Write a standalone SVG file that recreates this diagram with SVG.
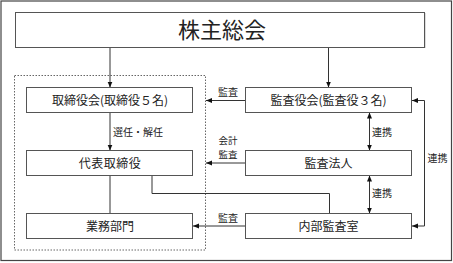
<svg xmlns="http://www.w3.org/2000/svg" width="453" height="263" viewBox="0 0 453 263">
<style>
.box{fill:#fff;stroke:#555;stroke-width:1}
.ln{fill:none;stroke:#333;stroke-width:1}
.t{font-family:"Noto Sans CJK JP","Noto Sans",sans-serif;font-size:12px;fill:#222;text-anchor:middle}
.lb{font-family:"Noto Sans CJK JP","Noto Sans",sans-serif;font-size:10px;fill:#222}
</style>
<defs>
<marker id="ah" viewBox="0 0 6 6" refX="6" refY="3" markerWidth="6" markerHeight="6" markerUnits="userSpaceOnUse" orient="auto-start-reverse">
<path d="M0,0.5 L6,3 L0,5.5 Z" fill="#111"/>
</marker>
</defs>
<rect x="1" y="1" width="450.5" height="259.5" fill="#fff" stroke="#444" stroke-width="1.2"/>
<rect x="14.5" y="75.5" width="191" height="174.5" fill="none" stroke="#666" stroke-width="1" stroke-dasharray="1.5,1.5"/>
<g id="connectors">
<path class="ln" d="M110,47.5 V87.5" marker-end="url(#ah)"/>
<path class="ln" d="M328.5,47.5 V87.5" marker-end="url(#ah)"/>
<path class="ln" d="M110,112.5 V150.5" marker-end="url(#ah)"/>
<path class="ln" d="M110,175.5 V213.5"/>
<path class="ln" d="M152,175.5 V193.5 H329.5 V213.5"/>
<path class="ln" d="M245.5,100.5 H206" marker-end="url(#ah)"/>
<path class="ln" d="M245.5,163 H206" marker-end="url(#ah)"/>
<path class="ln" d="M245.5,226 H193" marker-end="url(#ah)"/>
<path class="ln" d="M369.5,112.5 V150.5" marker-start="url(#ah)" marker-end="url(#ah)"/>
<path class="ln" d="M369.5,175.5 V213.5" marker-start="url(#ah)" marker-end="url(#ah)"/>
<path class="ln" d="M412,226 H424.5 V100.5 H412" marker-start="url(#ah)" marker-end="url(#ah)"/>
<text class="lb" x="218" y="96">監査</text>
<text class="lb" x="113" y="135.5">選任・解任</text>
<text class="lb" x="218.5" y="144" style="font-size:9.5px">会計</text>
<text class="lb" x="218.5" y="158" style="font-size:9.5px">監査</text>
<text class="lb" x="218" y="221.5">監査</text>
<text class="lb" x="372" y="135.5">連携</text>
<text class="lb" x="372" y="197">連携</text>
<text class="lb" x="427.5" y="161.5">連携</text>
</g>
<g id="shareholders">
<rect x="16.5" y="13" width="409" height="35" fill="#bbb"/>
<rect class="box" x="15.5" y="12.5" width="409" height="35"/>
<text class="t" x="222" y="38" style="font-size:22px">株主総会</text>
</g>
<g id="board">
<rect class="box" x="26.5" y="87.5" width="166" height="25"/>
<text class="t" x="110" y="104.5">取締役会(取締役５名)</text>
</g>
<g id="ceo">
<rect class="box" x="26.5" y="150.5" width="166" height="25"/>
<text class="t" x="110" y="167.5" letter-spacing="0.5">代表取締役</text>
</g>
<g id="business">
<rect class="box" x="26.5" y="213.5" width="166" height="25"/>
<text class="t" x="110" y="230.5">業務部門</text>
</g>
<g id="auditors">
<rect class="box" x="245.5" y="87.5" width="166" height="25"/>
<text class="t" x="328.5" y="104.5">監査役会(監査役３名)</text>
</g>
<g id="audit-firm">
<rect class="box" x="245.5" y="150.5" width="166" height="25"/>
<text class="t" x="328.5" y="167.5">監査法人</text>
</g>
<g id="internal-audit">
<rect class="box" x="245.5" y="213.5" width="166" height="25"/>
<text class="t" x="328.5" y="230.5">内部監査室</text>
</g>
</svg>
